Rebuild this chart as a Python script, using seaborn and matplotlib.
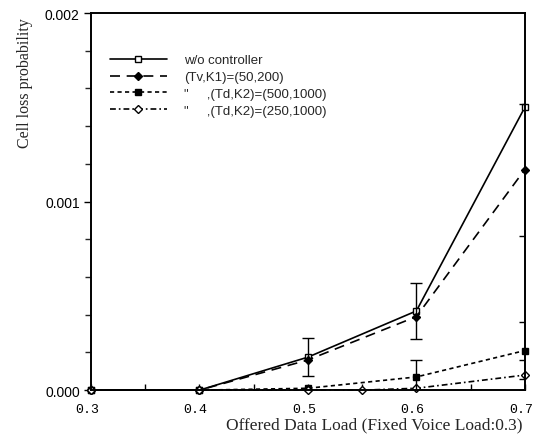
import numpy as np
import pandas as pd
import matplotlib
matplotlib.use("Agg")
import matplotlib.pyplot as plt
import matplotlib.transforms as mtransforms
from matplotlib.ticker import MultipleLocator, FixedLocator
import seaborn as sns

# Dane
load = [0.3, 0.4, 0.5, 0.6, 0.7]
load_d2 = [0.3, 0.4, 0.5, 0.55, 0.6, 0.7]
no_ctrl = [0.0, 0.0, 0.000175, 0.00042, 0.00150]
ctrl_v = [0.0, 0.0, 0.00016, 0.00039, 0.00117]
ctrl_d1 = [0.0, 0.0, 0.00001, 0.00007, 0.00021]
ctrl_d2 = [0.0, 0.0, 0.0, 0.0, 0.00001, 0.00008]

labels = ['w/o controller', '(Tv,K1)=(50,200)',
          '"     ,(Td,K2)=(500,1000)', '"     ,(Td,K2)=(250,1000)']

# Przedzialy ufnosci (x, y, +/-)
err_x = [0.5, 0.6, 0.7, 0.6, 0.7, 0.7]
err_y = [0.000175, 0.00042, 0.00117, 0.00007, 0.00021, 0.00008]
err_size = [0.0001, 0.00015, 0.00035, 0.00009, 0.00015, 0.00008]

sns.set_style("ticks")
plt.rcParams['font.family'] = ['Liberation Sans', 'DejaVu Sans']

fig = plt.figure(figsize=(5.35, 4.39), dpi=100)
ax = fig.add_axes([0.170, 0.109, 0.811, 0.859])

common = dict(ax=ax, color='black', linewidth=1.2, markersize=5,
              markeredgecolor='black', markeredgewidth=1.0, clip_on=False)

sns.lineplot(x=load, y=no_ctrl, marker='s', markerfacecolor='white',
             linestyle='-', label=labels[0], **common)
sns.lineplot(x=load, y=ctrl_v, marker='D', markerfacecolor='black',
             linestyle=(0, (6, 4)), label=labels[1],
             **{**common, 'markersize': 4})
sns.lineplot(x=load, y=ctrl_d1, marker='s', markerfacecolor='black',
             linestyle=(0, (2.5, 2)), label=labels[2], **common)
sns.lineplot(x=load_d2, y=ctrl_d2, marker='D', markerfacecolor='white',
             linestyle=(0, (3.5, 1.8, 1, 1.8)), label=labels[3],
             **{**common, 'markersize': 4})

ax.errorbar(err_x, err_y, yerr=err_size, fmt='none', ecolor='black',
            elinewidth=1.0, capsize=4, capthick=1.0)

ax.set_xlim(0.3, 0.7)
ax.set_ylim(0, 0.002)

ax.xaxis.set_major_locator(FixedLocator(load))
ax.xaxis.set_minor_locator(MultipleLocator(0.05))
ax.set_xticklabels(['0.3', '0.4', '0.5', '0.6', '0.7'],
                   family='Liberation Mono', fontsize=9.5)
ax.yaxis.set_major_locator(FixedLocator([0.0, 0.001, 0.002]))
ax.yaxis.set_minor_locator(MultipleLocator(0.0002))
ax.set_yticklabels(['0.000', '0.001', '0.002'], fontsize=10)

ax.tick_params(axis='x', which='both', direction='in', length=4,
               width=1.0, pad=9, colors='black')
ax.tick_params(axis='y', which='major', direction='out', length=5,
               width=1.0, pad=3, colors='black')
ax.tick_params(axis='y', which='minor', direction='out', length=4,
               width=1.0)

# etykiety osi X lekko przesuniete w lewo, jak w oryginale
shift = mtransforms.ScaledTranslation(-4 / 100, 0, fig.dpi_scale_trans)
for lbl in ax.get_xticklabels():
    lbl.set_transform(lbl.get_transform() + shift)

for s in ax.spines.values():
    s.set_linewidth(1.4)
    s.set_color('black')

ax.set_xlabel('')
ax.set_ylabel('')
fig.text(25 / 535, 1 - 18 / 439, 'Cell loss probability', rotation=90,
         ha='center', va='top', family='Liberation Serif', fontsize=11.5)
fig.text(523 / 535, 1 - 425 / 439, 'Offered Data Load (Fixed Voice Load:0.3)',
         ha='right', va='center', family='Liberation Serif', fontsize=12.5)

ax.legend(loc='upper left', bbox_to_anchor=(0.044, 0.891), frameon=False,
          fontsize=9.5, handlelength=4.3, handletextpad=1.3,
          labelspacing=0.35, borderpad=0, borderaxespad=0)

fig.savefig('out.png', dpi=100)
